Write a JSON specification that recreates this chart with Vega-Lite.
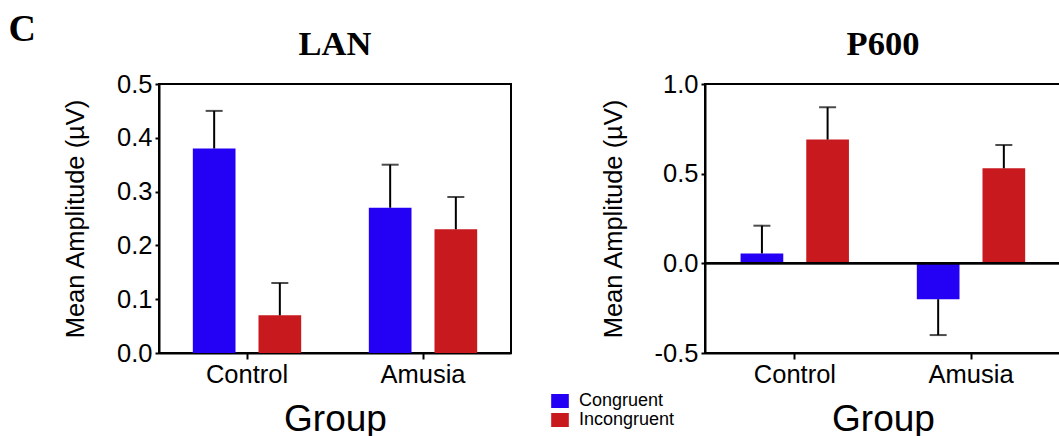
{
  "$schema": "https://vega.github.io/schema/vega-lite/v6.json",
  "background": "white",
  "padding": {"left": 8, "top": 11, "right": 0, "bottom": 0},
  "title": {"text": "C", "anchor": "start", "frame": "bounds", "font": "Liberation Serif", "fontSize": 38, "fontWeight": "bold", "color": "black", "offset": -23.5, "dx": -54},
  "datasets": {
    "lan": [
      {"group": "Control", "condition": "Congruent", "mean": 0.38, "upper": 0.45},
      {"group": "Control", "condition": "Incongruent", "mean": 0.07, "upper": 0.13},
      {"group": "Amusia", "condition": "Congruent", "mean": 0.27, "upper": 0.35},
      {"group": "Amusia", "condition": "Incongruent", "mean": 0.23, "upper": 0.29}
    ],
    "p600": [
      {"group": "Control", "condition": "Congruent", "mean": 0.055, "upper": 0.21},
      {"group": "Control", "condition": "Incongruent", "mean": 0.69, "upper": 0.87},
      {"group": "Amusia", "condition": "Congruent", "mean": -0.2, "upper": -0.4},
      {"group": "Amusia", "condition": "Incongruent", "mean": 0.53, "upper": 0.66}
    ]
  },
  "spacing": 88,
  "hconcat": [
    {
      "width": 352,
      "height": 269,
      "data": {"name": "lan"},
      "title": {"text": "LAN"},
      "layer": [
        {
          "mark": {"type": "bar"},
          "encoding": {
            "x": {"field": "group", "type": "nominal", "sort": ["Control", "Amusia"], "title": "Group", "scale": {"paddingInner": 0, "paddingOuter": 0}},
            "xOffset": {"field": "condition", "type": "nominal", "sort": ["Congruent", "Incongruent"], "scale": {"paddingInner": 0.35, "paddingOuter": 0.515}},
            "y": {"field": "mean", "type": "quantitative", "title": "Mean Amplitude (µV)", "scale": {"domain": [0, 0.5], "nice": false, "zero": true}, "axis": {"values": [0, 0.1, 0.2, 0.3, 0.4, 0.5], "labelExpr": "replace(format(datum.value, '.1f'), '−', '-')"}},
            "color": {"field": "condition", "type": "nominal", "scale": {"domain": ["Congruent", "Incongruent"], "range": ["#2400F4", "#C8191E"]}, "legend": {"title": null}}
          }
        },
        {
          "mark": {"type": "rule", "strokeWidth": 2, "color": "black"},
          "encoding": {
            "x": {"field": "group", "type": "nominal", "sort": ["Control", "Amusia"]},
            "xOffset": {"field": "condition", "type": "nominal", "sort": ["Congruent", "Incongruent"]},
            "y": {"field": "mean", "type": "quantitative"}, "y2": {"field": "upper"}
          }
        },
        {
          "mark": {"type": "tick", "size": 17, "thickness": 2, "color": "black"},
          "encoding": {
            "x": {"field": "group", "type": "nominal", "sort": ["Control", "Amusia"]},
            "xOffset": {"field": "condition", "type": "nominal", "sort": ["Congruent", "Incongruent"]},
            "y": {"field": "upper", "type": "quantitative"}
          }
        }
      ]
    },
    {
      "width": 356,
      "height": 269,
      "data": {"name": "p600"},
      "title": {"text": "P600"},
      "layer": [
        {
          "mark": {"type": "bar"},
          "encoding": {
            "x": {"field": "group", "type": "nominal", "sort": ["Control", "Amusia"], "title": "Group", "scale": {"paddingInner": 0, "paddingOuter": 0.01}},
            "xOffset": {"field": "condition", "type": "nominal", "sort": ["Congruent", "Incongruent"], "scale": {"paddingInner": 0.35, "paddingOuter": 0.515}},
            "y": {"field": "mean", "type": "quantitative", "title": "Mean Amplitude (µV)", "scale": {"domain": [-0.5, 1.0], "nice": false}, "axis": {"values": [-0.5, 0, 0.5, 1.0], "labelExpr": "replace(format(datum.value, '.1f'), '−', '-')"}},
            "color": {"field": "condition", "type": "nominal", "scale": {"domain": ["Congruent", "Incongruent"], "range": ["#2400F4", "#C8191E"]}, "legend": {"title": null}}
          }
        },
        {
          "mark": {"type": "rule", "strokeWidth": 2, "color": "black"},
          "encoding": {"y": {"datum": 0, "type": "quantitative"}}
        },
        {
          "mark": {"type": "rule", "strokeWidth": 2, "color": "black"},
          "encoding": {
            "x": {"field": "group", "type": "nominal", "sort": ["Control", "Amusia"]},
            "xOffset": {"field": "condition", "type": "nominal", "sort": ["Congruent", "Incongruent"]},
            "y": {"field": "mean", "type": "quantitative"}, "y2": {"field": "upper"}
          }
        },
        {
          "mark": {"type": "tick", "size": 17, "thickness": 2, "color": "black"},
          "encoding": {
            "x": {"field": "group", "type": "nominal", "sort": ["Control", "Amusia"]},
            "xOffset": {"field": "condition", "type": "nominal", "sort": ["Congruent", "Incongruent"]},
            "y": {"field": "upper", "type": "quantitative"}
          }
        }
      ]
    }
  ],
  "config": {
    "font": "Liberation Sans",
    "view": {"stroke": "black", "strokeWidth": 2},
    "bar": {"stroke": null},
    "title": {"font": "Liberation Serif", "fontSize": 34.5, "fontWeight": "bold", "color": "black", "baseline": "alphabetic", "offset": 10},
    "axis": {
      "grid": false,
      "domainColor": "black",
      "domainWidth": 2,
      "tickColor": "black",
      "tickWidth": 2,
      "labelColor": "black",
      "titleColor": "black",
      "labelFont": "Liberation Sans",
      "titleFont": "Liberation Sans",
      "labelFontSize": 25.5,
      "titleFontWeight": "normal"
    },
    "axisY": {"tickSize": 4, "labelPadding": 3, "titleFontSize": 25.5, "titlePadding": 28},
    "axisX": {"tickSize": 6, "labelAngle": 0, "labelPadding": 3, "titleFontSize": 37, "titlePadding": 14},
    "legend": {
      "orient": "none",
      "legendX": 392,
      "legendY": 308,
      "labelFont": "Liberation Sans",
      "labelFontSize": 18,
      "labelColor": "black",
      "symbolType": "M-1.26,-1H1.26V1H-1.26Z",
      "symbolSize": 196,
      "symbolStrokeWidth": 0,
      "symbolOpacity": 1,
      "labelOffset": 10,
      "rowPadding": 1
    }
  }
}
